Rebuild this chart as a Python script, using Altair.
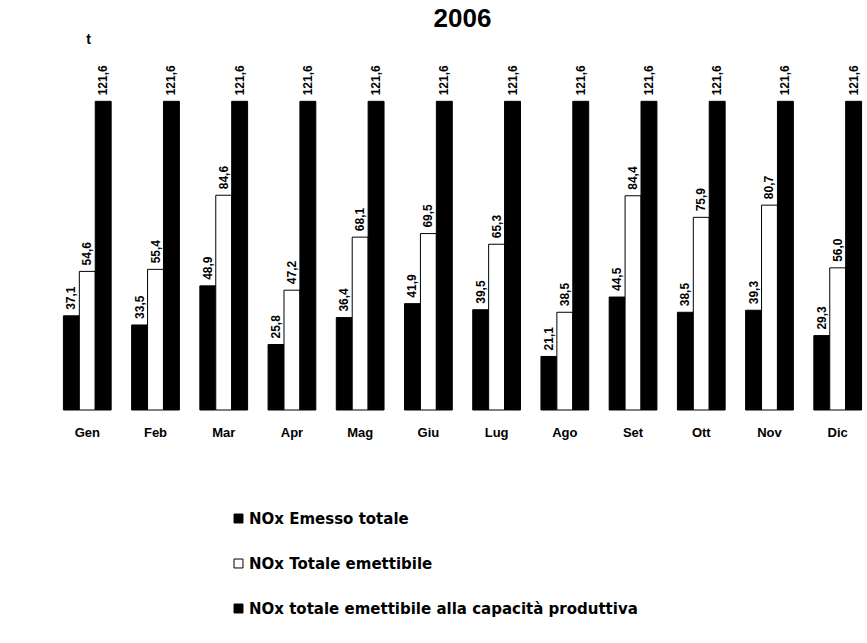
import altair as alt
import pandas as pd

mesi = ["Gen", "Feb", "Mar", "Apr", "Mag", "Giu", "Lug", "Ago", "Set", "Ott", "Nov", "Dic"]
emesso = [37.1, 33.5, 48.9, 25.8, 36.4, 41.9, 39.5, 21.1, 44.5, 38.5, 39.3, 29.3]
emettibile = [54.6, 55.4, 84.6, 47.2, 68.1, 69.5, 65.3, 38.5, 84.4, 75.9, 80.7, 56.0]
capacita = [121.6, 121.6, 121.6, 121.6, 121.6, 121.6, 121.6, 121.6, 121.6, 121.6, 121.6, 121.6]

serie = [
    "NOx Emesso totale",
    "NOx Totale emettibile",
    "NOx totale emettibile alla capacità produttiva",
]

rows = []
for i, m in enumerate(mesi):
    for s, vals in zip(serie, [emesso, emettibile, capacita]):
        rows.append({"mese": m, "serie": s, "valore": vals[i]})
df = pd.DataFrame(rows)

FONT = "Liberation Sans"

x_enc = alt.X("mese:N", sort=mesi, scale=alt.Scale(paddingInner=0.3, paddingOuter=0.05),
              axis=alt.Axis(title=None, domain=False, ticks=False, labelAngle=0,
                            labelPadding=16, labelFontSize=13, labelFontWeight="bold",
                            labelFont=FONT, labelColor="black"))
xoff = alt.XOffset("serie:N", sort=serie)
y_enc = alt.Y("valore:Q", scale=alt.Scale(domain=[0, 125]),
              axis=alt.Axis(title="t", titleAngle=0, titleX=28, titleY=-34,
                            titleFontSize=14, titleFontWeight="bold", titleFont=FONT,
                            domain=False, ticks=False, labels=False, grid=False))

bars = alt.Chart(df).mark_bar(stroke="black", strokeWidth=1).encode(
    x=x_enc,
    xOffset=xoff,
    y=y_enc,
    fill=alt.Fill("serie:N", sort=serie,
                  scale=alt.Scale(domain=serie, range=["black", "white", "black"]),
                  legend=alt.Legend(title=None, orient="none", legendX=171, legendY=431,
                                    direction="vertical", rowPadding=29,
                                    symbolType="square", symbolSize=80,
                                    symbolStrokeColor="black", symbolStrokeWidth=1,
                                    labelFont="DejaVu Sans", labelFontSize=15,
                                    labelFontWeight="bold",
                                    labelColor="black", labelOffset=3,
                                    labelLimit=600)),
)

labels = alt.Chart(df).transform_calculate(
    etichetta="replace(format(datum.valore, '.1f'), '.', ',')"
).mark_text(angle=270, align="left", baseline="middle", dx=6,
            font=FONT, fontSize=12, fontWeight="bold", color="black").encode(
    x=alt.X("mese:N", sort=mesi),
    xOffset=xoff,
    y="valore:Q",
    text="etichetta:N",
)

chart = (bars + labels).properties(
    width=805,
    height=330,
    title=alt.Title("2006", fontSize=26, fontWeight="bold", font=FONT, anchor="middle",
                    offset=0, color="black"),
    padding={"left": 60, "top": 80, "right": 2, "bottom": 233},
    autosize=alt.AutoSizeParams(type="none"),
).configure_view(stroke=None)

chart.save("out.html", embed_options={"renderer": "svg", "actions": False})
